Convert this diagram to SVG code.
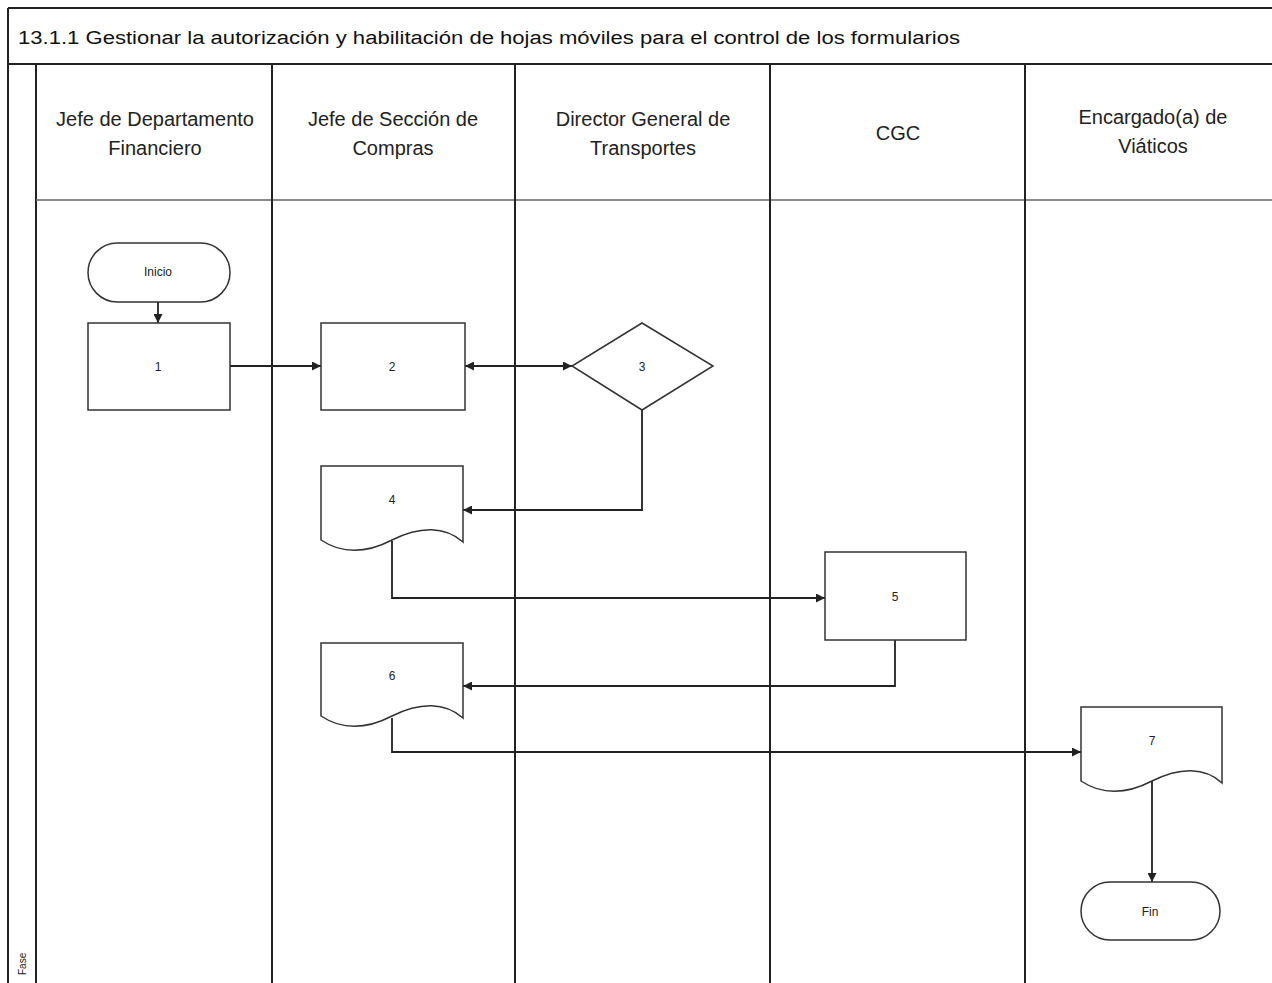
<svg xmlns="http://www.w3.org/2000/svg" width="1272" height="983" viewBox="0 0 1272 983">
<defs>
<marker id="arr" viewBox="0 0 10 10" refX="10" refY="5" markerWidth="10" markerHeight="9" orient="auto-start-reverse" markerUnits="userSpaceOnUse">
<path d="M0,0 L10,5 L0,10 Z" fill="#222"/>
</marker>
<style>
.frame{fill:none;stroke:#222;stroke-width:2}
.lane{fill:none;stroke:#222;stroke-width:2}
.hline{fill:none;stroke:#666;stroke-width:1.5}
.shape{fill:#fff;stroke:#333;stroke-width:1.5}
.conn{fill:none;stroke:#222;stroke-width:1.8}
.title{font-family:"Liberation Sans",Arial,sans-serif;font-size:18px;fill:#111}
.head{font-family:"Liberation Sans",Arial,sans-serif;font-size:20px;fill:#222;text-anchor:middle}
.lbl{font-family:"Liberation Sans",Arial,sans-serif;font-size:12px;fill:#222;text-anchor:middle;dominant-baseline:central}
</style>
</defs>
<rect width="1272" height="983" fill="#fff"/>
<g id="frame">
<line class="frame" x1="8" y1="8" x2="1272" y2="8"/>
<line class="frame" x1="8" y1="8" x2="8" y2="983"/>
<line class="frame" x1="8" y1="64" x2="1272" y2="64"/>
<line class="lane" x1="36" y1="64" x2="36" y2="983"/>
<line class="hline" x1="36" y1="200" x2="1272" y2="200"/>
<line class="lane" x1="272" y1="64" x2="272" y2="983"/>
<line class="lane" x1="515" y1="64" x2="515" y2="983"/>
<line class="lane" x1="770" y1="64" x2="770" y2="983"/>
<line class="lane" x1="1025" y1="64" x2="1025" y2="983"/>
<text class="title" x="18" y="44" textLength="942" lengthAdjust="spacingAndGlyphs">13.1.1 Gestionar la autorización y habilitación de hojas móviles para el control de los formularios</text>
<text x="26" y="975" transform="rotate(-90 26 975)" style="font-family:'Liberation Sans',Arial,sans-serif;font-size:10px;fill:#222">Fase</text>
</g>
<g id="headers">
<text class="head" x="155" y="126">Jefe de Departamento</text>
<text class="head" x="155" y="155">Financiero</text>
<text class="head" x="393" y="126">Jefe de Sección de</text>
<text class="head" x="393" y="155">Compras</text>
<text class="head" x="643" y="126">Director General de</text>
<text class="head" x="643" y="155">Transportes</text>
<text class="head" x="898" y="140">CGC</text>
<text class="head" x="1153" y="124">Encargado(a) de</text>
<text class="head" x="1153" y="153">Viáticos</text>
</g>
<g id="connectors">
<line class="conn" x1="158" y1="302" x2="158" y2="323" marker-end="url(#arr)"/>
<line class="conn" x1="230" y1="366" x2="321" y2="366" marker-end="url(#arr)"/>
<line class="conn" x1="465" y1="366" x2="572" y2="366" marker-start="url(#arr)" marker-end="url(#arr)"/>
<polyline class="conn" points="642,410 642,510 463,510" marker-end="url(#arr)"/>
<polyline class="conn" points="392,541 392,598 825,598" marker-end="url(#arr)"/>
<polyline class="conn" points="895,640 895,686 463,686" marker-end="url(#arr)"/>
<polyline class="conn" points="392,718 392,752 1081,752" marker-end="url(#arr)"/>
<line class="conn" x1="1152" y1="781" x2="1152" y2="882" marker-end="url(#arr)"/>
</g>
<g id="node-inicio">
<rect class="shape" x="88" y="243" width="142" height="59" rx="29.5" ry="29.5"/>
<text class="lbl" x="158" y="272">Inicio</text>
</g>
<g id="node-1">
<rect class="shape" x="88" y="323" width="142" height="87"/>
<text class="lbl" x="158" y="367">1</text>
</g>
<g id="node-2">
<rect class="shape" x="321" y="323" width="144" height="87"/>
<text class="lbl" x="392" y="367">2</text>
</g>
<g id="node-3">
<polygon class="shape" points="642,323 713,366 642,410 572,366"/>
<text class="lbl" x="642" y="367">3</text>
</g>
<g id="node-4">
<path class="shape" d="M321,466 H463 V542 C445,526 420,526 392,540 C365,554 342,554 321,540 Z"/>
<text class="lbl" x="392" y="500">4</text>
</g>
<g id="node-5">
<rect class="shape" x="825" y="552" width="141" height="88"/>
<text class="lbl" x="895" y="597">5</text>
</g>
<g id="node-6">
<path class="shape" d="M321,643 H463 V718 C445,702 420,702 392,716 C365,730 342,730 321,716 Z"/>
<text class="lbl" x="392" y="676">6</text>
</g>
<g id="node-7">
<path class="shape" d="M1081,707 H1222 V783 C1205,767 1180,767 1152,781 C1125,795 1102,795 1081,781 Z"/>
<text class="lbl" x="1152" y="741">7</text>
</g>
<g id="node-fin">
<rect class="shape" x="1081" y="882" width="139" height="58" rx="29" ry="29"/>
<text class="lbl" x="1150" y="912">Fin</text>
</g>
</svg>
